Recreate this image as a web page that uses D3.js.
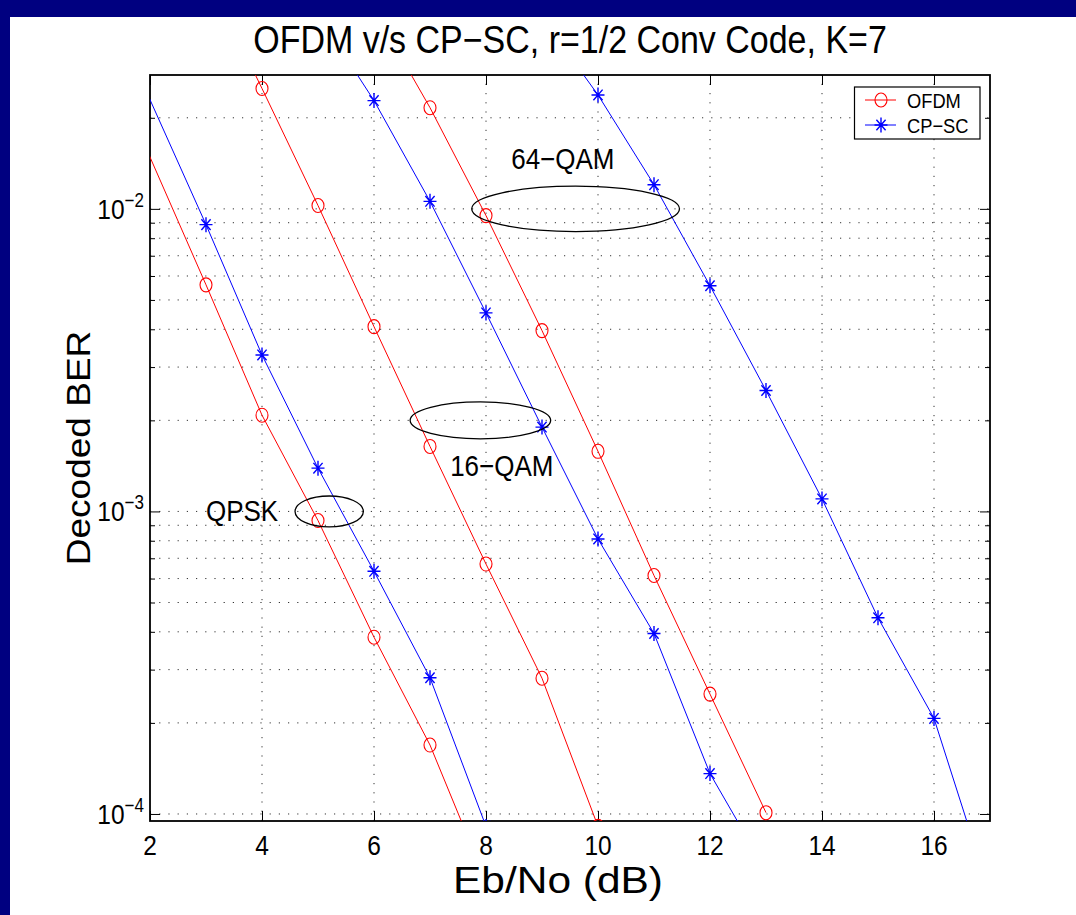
<!DOCTYPE html>
<html>
<head>
<meta charset="utf-8">
<script src="https://cdn.jsdelivr.net/npm/d3@7"></script>
<style>
  html, body { margin: 0; padding: 0; background: #000080; }
  svg { display: block; }
  text { font-family: "Liberation Sans", Arial, Helvetica, sans-serif; fill: #000; }
</style>
</head>
<body>
<svg id="chart" width="1076" height="915"></svg>
<script>
// Eb/No points (dB) and decoded BER for each modulation / scheme
const ebnoQpskOfdm  = [1, 3, 4, 5, 6, 7, 8];
const berQpskOfdm   = [0.0392, 5.61e-3, 2.08e-3, 9.33e-4, 3.84e-4, 1.69e-4, 6.0e-5];
const ebnoQpskCpsc  = [1, 3, 4, 5, 6, 7, 8];
const berQpskCpsc   = [0.0594, 8.87e-3, 3.29e-3, 1.39e-3, 6.34e-4, 2.82e-4, 9.1e-5];

const ebno16Ofdm    = [3, 4, 5, 6, 7, 8, 9, 10];
const ber16Ofdm     = [0.060, 0.0250, 0.01026, 4.08e-3, 1.64e-3, 6.70e-4, 2.81e-4, 9.1e-5];
const ebno16Cpsc    = [5, 6, 7, 8, 9, 10, 11, 12, 13];
const ber16Cpsc     = [0.044, 0.0228, 0.01059, 4.53e-3, 1.90e-3, 8.11e-4, 3.95e-4, 1.36e-4, 6.5e-5];

const ebno64Ofdm    = [6, 7, 8, 9, 10, 11, 12, 13];
const ber64Ofdm     = [0.0455, 0.0216, 9.5e-3, 3.96e-3, 1.58e-3, 6.14e-4, 2.49e-4, 1.01e-4];
const ebno64Cpsc    = [9, 10, 11, 12, 13, 14, 15, 16, 17];
const ber64Cpsc     = [0.043, 0.0238, 0.01202, 5.57e-3, 2.51e-3, 1.10e-3, 4.45e-4, 2.07e-4, 5.45e-5];

// axis settings
const xDomain = [2, 17];
const yDomain = [9.48e-5, 0.0277];
const xTicks = [2, 4, 6, 8, 10, 12, 14, 16];
const yMajorTicks = [1e-4, 1e-3, 1e-2];
const yTickExponents = ["\u22124", "\u22123", "\u22122"];

// text
const titleText = "OFDM v/s CP\u2212SC, r=1/2 Conv Code, K=7";
const xLabelText = "Eb/No (dB)";
const yLabelText = "Decoded BER";
const legendNames = ["OFDM", "CP\u2212SC"];

// group annotations: label text + anchor, ellipse centre and half-widths (x in dB, y in decades)
const groupNames   = ["QPSK", "16\u2212QAM", "64\u2212QAM"];
const groupLabelX  = [3.0, 7.36, 8.45];
const groupLabelY  = [1.0e-3, 1.41e-3, 1.46e-2];
const ellipseCX    = [5.2, 7.9, 9.6];
const ellipseCY    = [1.0e-3, 2.0e-3, 1.0e-2];
const ellipseRX    = [0.61, 1.255, 1.855];
const ellipseRDec  = [0.051, 0.061, 0.075];

const svg = d3.select("#chart");
const W = 1076, H = 915;
const m = { left: 150, right: 990, top: 75, bottom: 821 };
const SY = 1.14; // vertical stretch applied to text

svg.append("rect").attr("x", 0).attr("y", 0).attr("width", W).attr("height", H).attr("fill", "#000080");
svg.append("rect").attr("x", 10).attr("y", 17).attr("width", W - 10).attr("height", H - 17).attr("fill", "#fff");

const x = d3.scaleLinear().domain(xDomain).range([m.left, m.right]);
const y = d3.scaleLog().domain(yDomain).range([m.bottom, m.top]);

function stretchedText(g, tx, ty, str, size, anchor, sx, sy) {
  return g.append("text")
    .attr("transform", `translate(${tx},${ty}) scale(${sx},${sy})`)
    .attr("text-anchor", anchor)
    .style("font-size", size + "px")
    .text(str);
}

// plot background
svg.append("rect").attr("x", m.left).attr("y", m.top)
  .attr("width", m.right - m.left).attr("height", m.bottom - m.top).attr("fill", "#fff");

// minor y values within the domain
const yMinor = [];
for (let e = -5; e <= -1; e++) {
  for (let k = 2; k <= 9; k++) {
    const v = k * Math.pow(10, e);
    if (v > yDomain[0] && v < yDomain[1]) yMinor.push(v);
  }
}

// dotted grid
const grid = svg.append("g").attr("stroke", "#333").attr("stroke-width", 1)
  .attr("stroke-dasharray", "1.2 8").attr("fill", "none");
xTicks.filter(t => t > xDomain[0]).forEach(t => {
  grid.append("line").attr("x1", x(t)).attr("x2", x(t)).attr("y1", m.bottom).attr("y2", m.top);
});
yMajorTicks.concat(yMinor).forEach(t => {
  grid.append("line").attr("x1", m.left).attr("x2", m.right).attr("y1", y(t)).attr("y2", y(t));
});

// axes with inward ticks on all four sides
const majLen = 10, minLen = 5;
const axisG = svg.append("g");
axisG.append("g").attr("transform", `translate(0,${m.bottom})`)
  .call(d3.axisBottom(x).tickValues(xTicks).tickSizeInner(-majLen).tickSizeOuter(0).tickFormat(""));
axisG.append("g").attr("transform", `translate(0,${m.top})`)
  .call(d3.axisTop(x).tickValues(xTicks).tickSizeInner(-majLen).tickSizeOuter(0).tickFormat(""));
axisG.append("g").attr("transform", `translate(${m.left},0)`)
  .call(d3.axisLeft(y).tickValues(yMajorTicks).tickSizeInner(-majLen).tickSizeOuter(0).tickFormat(""));
axisG.append("g").attr("transform", `translate(${m.right},0)`)
  .call(d3.axisRight(y).tickValues(yMajorTicks).tickSizeInner(-majLen).tickSizeOuter(0).tickFormat(""));
axisG.append("g").attr("transform", `translate(${m.left},0)`)
  .call(d3.axisLeft(y).tickValues(yMinor).tickSizeInner(-minLen).tickSizeOuter(0).tickFormat(""));
axisG.append("g").attr("transform", `translate(${m.right},0)`)
  .call(d3.axisRight(y).tickValues(yMinor).tickSizeInner(-minLen).tickSizeOuter(0).tickFormat(""));
axisG.selectAll(".domain").remove();
axisG.selectAll(".tick line").attr("stroke", "#000").attr("stroke-width", 1);

// frame
svg.append("rect").attr("x", m.left).attr("y", m.top)
  .attr("width", m.right - m.left).attr("height", m.bottom - m.top)
  .attr("fill", "none").attr("stroke", "#000").attr("stroke-width", 1.8);

// tick labels
const labels = svg.append("g");
xTicks.forEach(t => {
  stretchedText(labels, x(t), 855, String(t), 24.5, "middle", 1, SY);
});
yMajorTicks.forEach((t, i) => {
  const ty = y(t);
  const lab = labels.append("text")
    .attr("transform", `translate(${m.left - 6},${ty + 10}) scale(1,${SY})`)
    .attr("text-anchor", "end")
    .style("font-size", "24.5px");
  lab.append("tspan").text("10");
  lab.append("tspan").attr("dy", "-0.62em").style("font-size", "17px").text(yTickExponents[i]);
});

// clip for data
svg.append("clipPath").attr("id", "plotClip").append("rect")
  .attr("x", m.left).attr("y", m.top).attr("width", m.right - m.left).attr("height", m.bottom - m.top);
const plot = svg.append("g").attr("clip-path", "url(#plotClip)");

const line = d3.line().x(d => x(d[0])).y(d => y(d[1]));
const zip = (xs, ys) => xs.map((v, i) => [v, ys[i]]);

const ofdmSeries = [zip(ebnoQpskOfdm, berQpskOfdm), zip(ebno16Ofdm, ber16Ofdm), zip(ebno64Ofdm, ber64Ofdm)];
const cpscSeries = [zip(ebnoQpskCpsc, berQpskCpsc), zip(ebno16Cpsc, ber16Cpsc), zip(ebno64Cpsc, ber64Cpsc)];

const RED = "#ff0000", BLUE = "#0000ff";

function circleMarker(g, cx, cy, color) {
  g.append("ellipse").attr("cx", cx).attr("cy", cy).attr("rx", 6).attr("ry", 7)
    .attr("fill", "none").attr("stroke", color).attr("stroke-width", 1.1);
}
function starMarker(g, cx, cy, color) {
  const a = 6.5, b = 7.5, d = 4.6, e = 5.3;
  const p = `M${cx - a},${cy}L${cx + a},${cy}M${cx},${cy - b}L${cx},${cy + b}` +
            `M${cx - d},${cy - e}L${cx + d},${cy + e}M${cx - d},${cy + e}L${cx + d},${cy - e}`;
  g.append("path").attr("d", p).attr("stroke", color).attr("stroke-width", 1.4).attr("fill", "none");
}

ofdmSeries.forEach(s => {
  plot.append("path").datum(s).attr("d", line).attr("fill", "none").attr("stroke", RED).attr("stroke-width", 1);
  s.forEach(p => circleMarker(plot, x(p[0]), y(p[1]), RED));
});
cpscSeries.forEach(s => {
  plot.append("path").datum(s).attr("d", line).attr("fill", "none").attr("stroke", BLUE).attr("stroke-width", 1);
  s.forEach(p => starMarker(plot, x(p[0]), y(p[1]), BLUE));
});

// group ellipses and labels
groupNames.forEach((name, i) => {
  const cx = x(ellipseCX[i]), cy = y(ellipseCY[i]);
  const rx = x(ellipseCX[i] + ellipseRX[i]) - cx;
  const ry = y(ellipseCY[i]) - y(ellipseCY[i] * Math.pow(10, ellipseRDec[i]));
  svg.append("ellipse").attr("cx", cx).attr("cy", cy).attr("rx", rx).attr("ry", ry)
    .attr("fill", "none").attr("stroke", "#000").attr("stroke-width", 1.3);
  stretchedText(svg, x(groupLabelX[i]), y(groupLabelY[i]) + 10, name, 26, "start", 1, SY);
});

// legend
const lg = svg.append("g");
lg.append("rect").attr("x", 854.5).attr("y", 87).attr("width", 125.5).attr("height", 52)
  .attr("fill", "#fff").attr("stroke", "#000").attr("stroke-width", 1.2);
const legendRows = [100, 125];
legendNames.forEach((name, i) => {
  const ly = legendRows[i];
  const col = i === 0 ? RED : BLUE;
  lg.append("line").attr("x1", 865).attr("x2", 896).attr("y1", ly).attr("y2", ly)
    .attr("stroke", col).attr("stroke-width", 1);
  if (i === 0) circleMarker(lg, 881, ly, col); else starMarker(lg, 881, ly, col);
  stretchedText(lg, 907, ly + 7.5, name, 18.3, "start", 1, SY);
});

// title and axis labels
stretchedText(svg, 570, 53, titleText, 34, "middle", 1, SY);
stretchedText(svg, 558, 893, xLabelText, 36, "middle", 1.18, 1.05);
svg.append("text")
  .attr("transform", `translate(90,448) rotate(-90) scale(${SY},1)`)
  .attr("text-anchor", "middle")
  .style("font-size", "32.5px")
  .text(yLabelText);
</script>
</body>
</html>
